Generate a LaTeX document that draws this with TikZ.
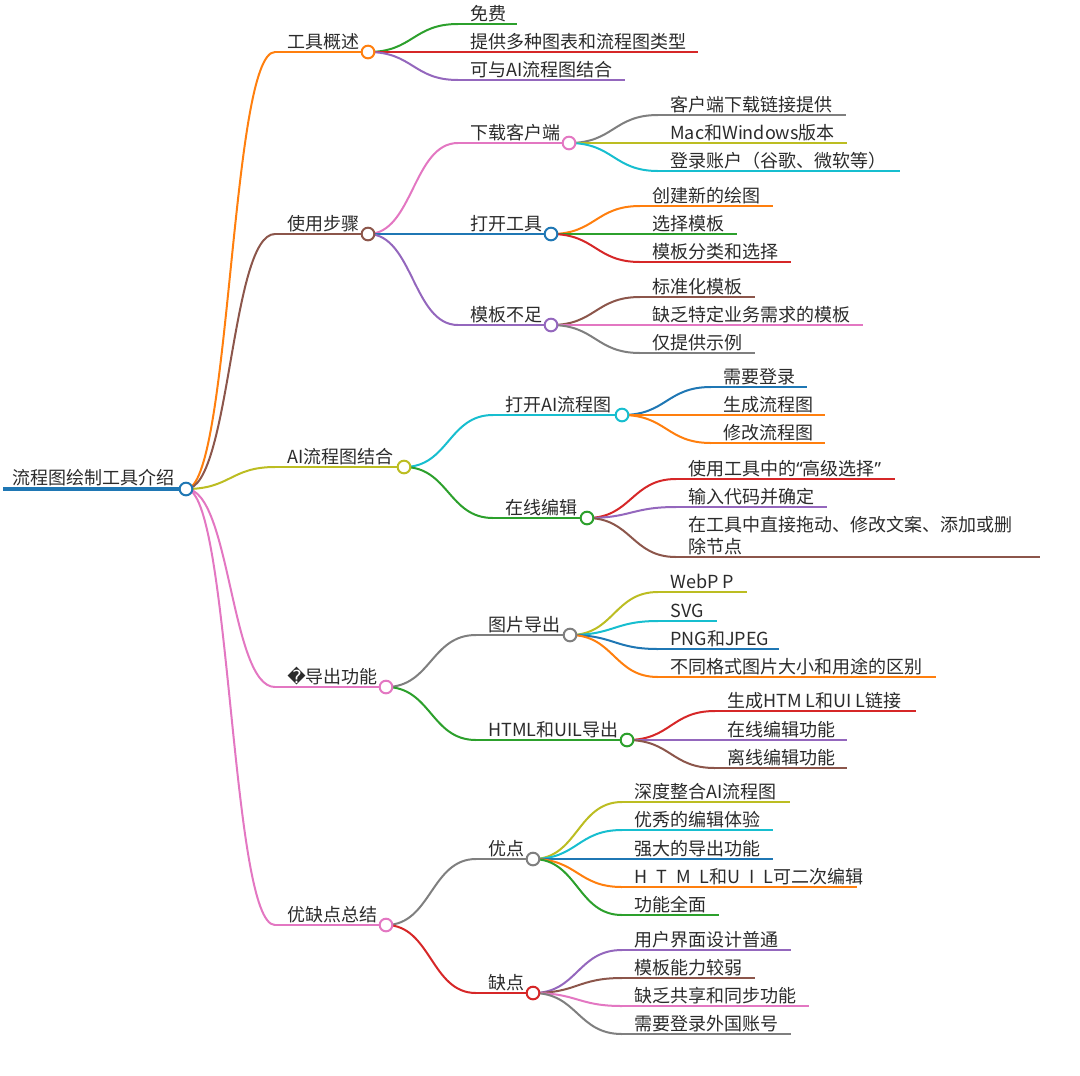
\documentclass[tikz,border=0pt]{standalone}
\usepackage{fontspec}
\setmainfont{Noto Sans CJK SC}
\newfontfamily\dvfont{DejaVu Sans}
\newfontfamily\qfont{Noto Sans}
\usetikzlibrary{calc}
\definecolor{mblue}{HTML}{1F77B4}
\definecolor{morange}{HTML}{FF7F0E}
\definecolor{mgreen}{HTML}{2CA02C}
\definecolor{mred}{HTML}{D62728}
\definecolor{mpurple}{HTML}{9467BD}
\definecolor{mbrown}{HTML}{8C564B}
\definecolor{mpink}{HTML}{E377C2}
\definecolor{mgray}{HTML}{7F7F7F}
\definecolor{molive}{HTML}{BCBD22}
\definecolor{mcyan}{HTML}{17BECF}
\definecolor{mtext}{HTML}{2B2B2B}
\tikzset{
  lbl/.style={inner sep=0pt, anchor=base west, text=mtext, font=\fontsize{13.5}{16}\selectfont},
  ul/.style={line width=1.5pt},
  lk/.style={line width=1.5pt},
  dot/.style={circle, fill=white, line width=1.5pt, inner sep=0pt, minimum size=9.5pt},
  mlink/.style={to path={.. controls ($(\tikztostart)!0.5!(\tikztotarget |- \tikztostart)$) and ($(\tikztotarget)!0.5!(\tikztostart |- \tikztotarget)$) .. (\tikztotarget)}},
}
% id, parent, colour, text x, line y, end x, text
\newcommand\mmnode[7]{%
  \coordinate (#1S) at (#4-12,#5);
  \coordinate (#1E) at (#6,#5);
  \node[lbl] (#1) at (#4,#5-3.5) {#7};
  \draw[ul,#3] (#1S) -- (#1E);
  \draw[lk,#3] (#2E) to[mlink] (#1S);
}
\newcommand\mmdot[2]{\node[dot,draw=#2] (#1C) at (#1E) {};}
\begin{document}
\begin{tikzpicture}[x=0.75pt,y=-0.75pt]
\useasboundingbox (0,0) rectangle (1080,1075);
% root
\coordinate (rS) at (3,489);
\coordinate (rE) at (186,489);
\node[lbl] (r) at (12,484.5) {流程图绘制工具介绍};
% level 1 and below
\mmnode{a}{r}{morange}{287}{52}{368}{工具概述}
\mmnode{a1}{a}{mgreen}{470}{24}{517}{免费}
\mmnode{a2}{a}{mred}{470}{52}{698}{提供多种图表和流程图类型}
\mmnode{a3}{a}{mpurple}{470}{80}{625}{可与AI流程图结合}

\mmnode{b}{r}{mbrown}{287}{234}{368}{使用步骤}
\mmnode{b1}{b}{mpink}{470}{143}{569}{下载客户端}
\mmnode{b11}{b1}{mgray}{670}{115}{846}{客户端下载链接提供}
\mmnode{b12}{b1}{molive}{670}{143}{847}{Mac和Windows版本}
\mmnode{b13}{b1}{mcyan}{670}{171}{900}{登录账户（谷歌、微软等）}
\mmnode{b2}{b}{mblue}{470}{234}{551}{打开工具}
\mmnode{b21}{b2}{morange}{652}{206}{773}{创建新的绘图}
\mmnode{b22}{b2}{mgreen}{652}{234}{737}{选择模板}
\mmnode{b23}{b2}{mred}{652}{262}{791}{模板分类和选择}
\mmnode{b3}{b}{mpurple}{470}{325}{551}{模板不足}
\mmnode{b31}{b3}{mbrown}{652}{297}{755}{标准化模板}
\mmnode{b32}{b3}{mpink}{652}{325}{863}{缺乏特定业务需求的模板}
\mmnode{b33}{b3}{mgray}{652}{353}{755}{仅提供示例}

\mmnode{c}{r}{molive}{287}{467}{404}{AI流程图结合}
\mmnode{c1}{c}{mcyan}{505}{415}{622}{打开AI流程图}
\mmnode{c11}{c1}{mblue}{723}{387}{807}{需要登录}
\mmnode{c12}{c1}{morange}{723}{415}{825}{生成流程图}
\mmnode{c13}{c1}{morange}{723}{443}{825}{修改流程图}
\mmnode{c2}{c}{mgreen}{505}{518}{587}{在线编辑}
\mmnode{c21}{c2}{mred}{688}{479}{895}{使用工具中的{\qfont “}高级选择{\qfont ”}}
\mmnode{c22}{c2}{mpurple}{688}{507}{827}{输入代码并确定}
\mmnode{c23}{c2}{mbrown}{688}{557}{1040}{除节点}
\node[lbl] (c23a) at (688,531.5) {在工具中直接拖动、修改文案、添加或删};

\mmnode{d}{r}{mpink}{287}{687}{386}{{\dvfont �}导出功能}
\mmnode{d1}{d}{mgray}{488}{635}{570}{图片导出}
\mmnode{d11}{d1}{molive}{670}{592}{747}{WebP P}
\mmnode{d12}{d1}{mcyan}{670}{621}{717}{SVG}
\mmnode{d13}{d1}{mblue}{670}{649}{779}{PNG和JPEG}
\mmnode{d14}{d1}{morange}{670}{677}{936}{不同格式图片大小和用途的区别}
\mmnode{d2}{d}{mgreen}{488}{740}{627}{HTML和UIL导出}
\mmnode{d21}{d2}{mred}{727}{711}{916}{生成HTM L和UI L链接}
\mmnode{d22}{d2}{mpurple}{727}{740}{847}{在线编辑功能}
\mmnode{d23}{d2}{mbrown}{727}{768}{847}{离线编辑功能}

\mmnode{e}{r}{mpink}{287}{925}{386}{优缺点总结}
\mmnode{e1}{e}{mgray}{488}{859}{533}{优点}
\mmnode{e11}{e1}{molive}{634}{802}{790}{深度整合AI流程图}
\mmnode{e12}{e1}{mcyan}{634}{830}{773}{优秀的编辑体验}
\mmnode{e13}{e1}{mblue}{634}{859}{773}{强大的导出功能}
\mmnode{e14}{e1}{morange}{634}{887}{857}{H\enspace T\enspace M\enspace L和U\enspace I\enspace L可二次编辑}
\mmnode{e15}{e1}{mgreen}{634}{915}{719}{功能全面}
\mmnode{e2}{e}{mred}{488}{993}{533}{缺点}
\mmnode{e21}{e2}{mpurple}{634}{950}{791}{用户界面设计普通}
\mmnode{e22}{e2}{mbrown}{634}{978}{755}{模板能力较弱}
\mmnode{e23}{e2}{mpink}{634}{1006}{809}{缺乏共享和同步功能}
\mmnode{e24}{e2}{mgray}{634}{1034}{791}{需要登录外国账号}

% root underline
\draw[mblue,line width=3pt] (rS) -- (rE);
% circles on top
\mmdot{r}{mblue}
\mmdot{a}{morange}
\mmdot{b}{mbrown}
\mmdot{b1}{mpink}
\mmdot{b2}{mblue}
\mmdot{b3}{mpurple}
\mmdot{c}{molive}
\mmdot{c1}{mcyan}
\mmdot{c2}{mgreen}
\mmdot{d}{mpink}
\mmdot{d1}{mgray}
\mmdot{d2}{mgreen}
\mmdot{e}{mpink}
\mmdot{e1}{mgray}
\mmdot{e2}{mred}
\end{tikzpicture}
\end{document}
